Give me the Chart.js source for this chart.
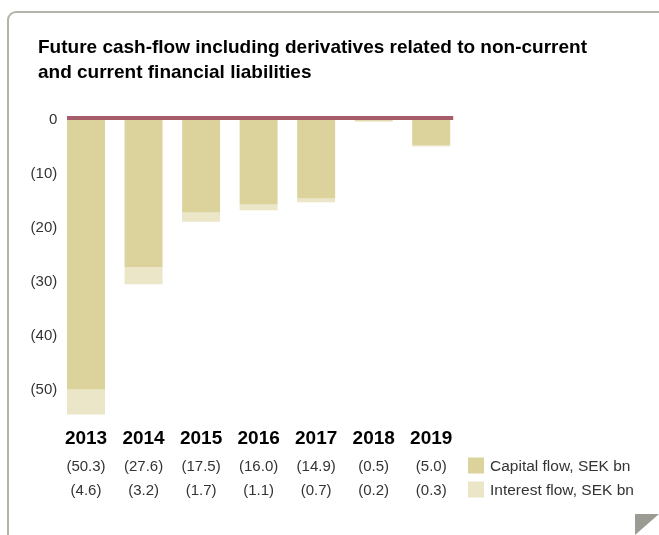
<!DOCTYPE html>
<html>
<head>
<meta charset="utf-8">
<script src="https://cdn.jsdelivr.net/npm/chart.js@4/dist/chart.umd.min.js"></script>
<style>
  html, body { margin: 0; padding: 0; background: #fff; }
  body { width: 659px; height: 535px; position: relative; overflow: hidden; }
  .frame {
    position: absolute; left: 7px; top: 11px; width: 700px; height: 600px;
    border: 2px solid #b4b4aa; border-top-left-radius: 9px; box-sizing: border-box;
  }
  .corner {
    position: absolute; left: 635px; top: 514px; width: 24px; height: 21px;
    background: #9b9b93; clip-path: polygon(0 0, 100% 0, 0 100%);
  }
  .title {
    position: absolute; left: 38px; top: 33.5px; white-space: nowrap;
    font: bold 19px/25px "Liberation Sans", Arial, sans-serif; color: #000;
  }
  #wrap { position: absolute; left: 0; top: 0; width: 659px; height: 535px; }
</style>
</head>
<body>
<div class="frame"></div>
<div class="corner"></div>
<div id="wrap"><canvas id="cashflowChart"></canvas></div>
<div class="title">Future cash-flow including derivatives related to non-current<br>and current financial liabilities</div>
<script>
// Data (SEK bn)
const years = ['2013', '2014', '2015', '2016', '2017', '2018', '2019'];
const capitalFlow = [-50.3, -27.6, -17.5, -16.0, -14.9, -0.5, -5.0];
const interestFlow = [-4.6, -3.2, -1.7, -1.1, -0.7, -0.2, -0.3];
const capitalLabels = ['(50.3)', '(27.6)', '(17.5)', '(16.0)', '(14.9)', '(0.5)', '(5.0)'];
const interestLabels = ['(4.6)', '(3.2)', '(1.7)', '(1.1)', '(0.7)', '(0.2)', '(0.3)'];
const yTicks = [0, -10, -20, -30, -40, -50];

const textFont = '"Liberation Sans", Arial, sans-serif';

// Zero line drawn across the bars
const zeroLine = {
  id: 'zeroLine',
  afterDatasetsDraw(chart) {
    const meta = chart.getDatasetMeta(0);
    const first = meta.data[0];
    const last = meta.data[meta.data.length - 1];
    const y = chart.scales.y.getPixelForValue(0);
    const ctx = chart.ctx;
    ctx.save();
    ctx.fillStyle = '#a65d6a';
    const left = first.x - first.width / 2;
    const right = last.x + last.width / 2 + 3;
    ctx.fillRect(left, y - 2, right - left, 4);
    ctx.restore();
  }
};

// Legend beside the value rows
const sideLegend = {
  id: 'sideLegend',
  afterDraw(chart) {
    const ctx = chart.ctx;
    const rows = [chart.scales.xCap, chart.scales.xInt];
    const x = chart.chartArea.right + 8;
    ctx.save();
    chart.data.datasets.forEach((ds, i) => {
      const s = rows[i];
      const cy = s.top + s.options.ticks.padding + 8;
      ctx.fillStyle = ds.backgroundColor;
      ctx.fillRect(x, cy - 8, 16, 16);
      ctx.fillStyle = '#333';
      ctx.font = '15.5px ' + textFont;
      ctx.textBaseline = 'middle';
      ctx.fillText(ds.label, x + 22, cy + 1);
    });
    ctx.restore();
  }
};

const ctx = document.getElementById('cashflowChart').getContext('2d');
new Chart(ctx, {
  type: 'bar',
  data: {
    labels: years,
    datasets: [{
      label: 'Capital flow, SEK bn',
      data: capitalFlow,
      backgroundColor: '#dcd39c'
    }, {
      label: 'Interest flow, SEK bn',
      data: interestFlow,
      backgroundColor: '#ebe6c8'
    }]
  },
  plugins: [zeroLine, sideLegend],
  options: {
    responsive: true,
    maintainAspectRatio: false,
    animation: false,
    categoryPercentage: 0.66,
    barPercentage: 1,
    layout: { padding: { left: 20, right: 199, top: 118, bottom: 33 } },
    plugins: {
      legend: { display: false },
      tooltip: { enabled: false }
    },
    scales: {
      x: {
        stacked: true,
        weight: 0,
        grid: { display: false, drawTicks: false },
        border: { display: false },
        ticks: { color: '#000', padding: 12.5, font: { family: textFont, size: 19, weight: 'bold' } },
        afterFit: s => { s.height = 34; }
      },
      xCap: {
        type: 'category',
        position: 'bottom',
        weight: 1,
        labels: capitalLabels,
        grid: { display: false, drawTicks: false },
        border: { display: false },
        ticks: { color: '#333', padding: 8.5, font: { family: textFont, size: 15 } },
        afterFit: s => { s.height = 28; }
      },
      xInt: {
        type: 'category',
        position: 'bottom',
        weight: 2,
        labels: interestLabels,
        grid: { display: false, drawTicks: false },
        border: { display: false },
        ticks: { color: '#333', padding: 4.5, font: { family: textFont, size: 15 } },
        afterFit: s => { s.height = 25; }
      },
      y: {
        stacked: true,
        min: -55,
        max: 0,
        grid: { display: false, drawTicks: false },
        border: { display: false },
        afterBuildTicks: s => { s.ticks = yTicks.map(v => ({ value: v })); },
        afterFit: s => { s.width = 37.25; },
        ticks: {
          padding: 0,
          labelOffset: 2,
          color: '#333',
          font: { family: textFont, size: 15 },
          callback: v => v === 0 ? '0' : '(' + Math.abs(v) + ')'
        }
      }
    }
  }
});
</script>
</body>
</html>
